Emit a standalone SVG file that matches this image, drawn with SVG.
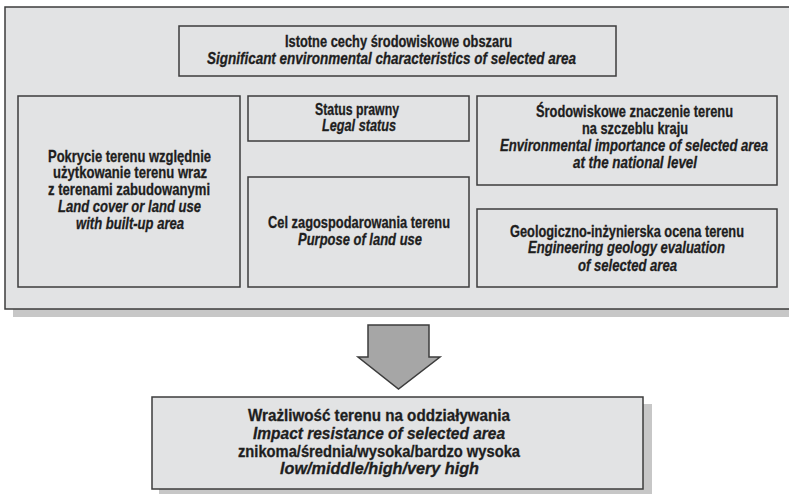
<svg xmlns="http://www.w3.org/2000/svg" width="789" height="494" viewBox="0 0 789 494">
<style>
.box{fill:#e2e3e4;stroke:#3c3c3c;stroke-width:1.5}
.shadow{fill:#c7c7c7}
text{font-family:"Liberation Sans",Arial,sans-serif;font-size:16px;fill:#1e1e1e;stroke:#1e1e1e;stroke-width:0.3;text-anchor:middle}
.b{font-weight:bold}
.i{font-weight:bold;font-style:italic}
</style>
<rect width="789" height="494" fill="#ffffff"/>
<g id="container">
<rect class="shadow" x="13" y="309" width="790" height="8"/>
<rect class="box" x="5" y="7" width="800" height="302"/>
</g>
<g id="node-top">
<rect class="box" x="179" y="26" width="437" height="50"/>
<text class="b" transform="translate(398.5,0) scale(0.8,1)" x="0" y="47.5" textLength="283.75" lengthAdjust="spacingAndGlyphs">Istotne cechy środowiskowe obszaru</text>
<text class="i" transform="translate(391.5,0) scale(0.8,1)" x="0" y="64" textLength="461.25" lengthAdjust="spacingAndGlyphs">Significant environmental characteristics of selected area</text>
</g>
<g id="node-landcover">
<rect class="box" x="18" y="96" width="222" height="191"/>
<text class="b" transform="translate(129.5,0) scale(0.8,1)" x="0" y="162" textLength="203.75" lengthAdjust="spacingAndGlyphs">Pokrycie terenu względnie</text>
<text class="b" transform="translate(130,0) scale(0.8,1)" x="0" y="178.5" textLength="192.5" lengthAdjust="spacingAndGlyphs">użytkowanie terenu wraz</text>
<text class="b" transform="translate(129,0) scale(0.8,1)" x="0" y="195" textLength="202.5" lengthAdjust="spacingAndGlyphs">z terenami zabudowanymi</text>
<text class="i" transform="translate(129.5,0) scale(0.8,1)" x="0" y="212" textLength="178.75" lengthAdjust="spacingAndGlyphs">Land cover or land use</text>
<text class="i" transform="translate(130,0) scale(0.8,1)" x="0" y="229" textLength="135" lengthAdjust="spacingAndGlyphs">with built-up area</text>
</g>
<g id="node-status">
<rect class="box" x="248" y="96" width="221" height="45"/>
<text class="b" transform="translate(357,0) scale(0.8,1)" x="0" y="114.8" textLength="105" lengthAdjust="spacingAndGlyphs">Status prawny</text>
<text class="i" transform="translate(359,0) scale(0.8,1)" x="0" y="131.5" textLength="92.5" lengthAdjust="spacingAndGlyphs">Legal status</text>
</g>
<g id="node-purpose">
<rect class="box" x="248" y="177" width="221" height="110"/>
<text class="b" transform="translate(359,0) scale(0.8,1)" x="0" y="228.3" textLength="227.5" lengthAdjust="spacingAndGlyphs">Cel zagospodarowania terenu</text>
<text class="i" transform="translate(360,0) scale(0.8,1)" x="0" y="245" textLength="155" lengthAdjust="spacingAndGlyphs">Purpose of land use</text>
</g>
<g id="node-importance">
<rect class="box" x="477" y="96" width="300" height="89"/>
<text class="b" transform="translate(634.5,0) scale(0.8,1)" x="0" y="116.7" textLength="246.25" lengthAdjust="spacingAndGlyphs">Środowiskowe znaczenie terenu</text>
<text class="b" transform="translate(635,0) scale(0.8,1)" x="0" y="134" textLength="132.5" lengthAdjust="spacingAndGlyphs">na szczeblu kraju</text>
<text class="i" transform="translate(634,0) scale(0.8,1)" x="0" y="151" textLength="335" lengthAdjust="spacingAndGlyphs">Environmental importance of selected area</text>
<text class="i" transform="translate(635,0) scale(0.8,1)" x="0" y="167.7" textLength="155" lengthAdjust="spacingAndGlyphs">at the national level</text>
</g>
<g id="node-geology">
<rect class="box" x="477" y="209" width="300" height="78"/>
<text class="b" transform="translate(627,0) scale(0.8,1)" x="0" y="236.7" textLength="292.5" lengthAdjust="spacingAndGlyphs">Geologiczno-inżynierska ocena terenu</text>
<text class="i" transform="translate(626.5,0) scale(0.8,1)" x="0" y="253.3" textLength="246.25" lengthAdjust="spacingAndGlyphs">Engineering geology evaluation</text>
<text class="i" transform="translate(627.5,0) scale(0.8,1)" x="0" y="270.7" textLength="123.75" lengthAdjust="spacingAndGlyphs">of selected area</text>
</g>
<g id="connectors">
<polygon points="368,325 429,325 429,357 440,357 398.5,389 358,357 368,357" fill="#a6a6a6" stroke="#3c3c3c" stroke-width="1.5" stroke-linejoin="miter"/>
</g>
<g id="node-result">
<rect class="shadow" x="159" y="404" width="493" height="95"/>
<rect class="box" x="152" y="397" width="491" height="92"/>
<text class="b" transform="translate(379,0) scale(0.8,1)" x="0" y="420.7" textLength="327.5" lengthAdjust="spacingAndGlyphs">Wrażliwość terenu na oddziaływania</text>
<text class="i" transform="translate(379,0) scale(0.8,1)" x="0" y="439" textLength="315" lengthAdjust="spacingAndGlyphs">Impact resistance of selected area</text>
<text class="b" transform="translate(379,0) scale(0.8,1)" x="0" y="457.3" textLength="352.5" lengthAdjust="spacingAndGlyphs">znikoma/średnia/wysoka/bardzo wysoka</text>
<text class="i" transform="translate(379.5,0) scale(0.8,1)" x="0" y="474.3" textLength="248.75" lengthAdjust="spacingAndGlyphs">low/middle/high/very high</text>
</g>
</svg>
